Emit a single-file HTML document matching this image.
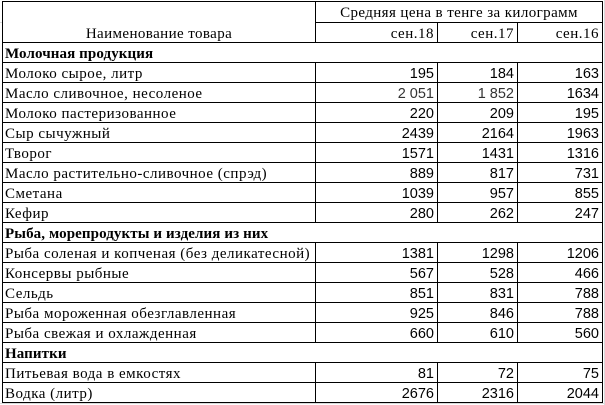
<!DOCTYPE html>
<html>
<head>
<meta charset="utf-8">
<style>
html,body{margin:0;padding:0;background:#fff;}
body{width:605px;height:405px;position:relative;overflow:hidden;}
.l{position:absolute;background:#000;}
.g{position:absolute;background:#dadada;}
.t{position:absolute;height:20px;line-height:20px;white-space:nowrap;color:#000;margin-top:2px;
   font-family:"Liberation Serif","DejaVu Serif",serif;font-size:15px;letter-spacing:0.5px;}
.b{font-weight:bold;letter-spacing:0.1px;}
.n{position:absolute;height:20px;line-height:20px;white-space:nowrap;color:#000;text-align:right;margin-top:2px;
   font-family:"Liberation Sans","DejaVu Sans",sans-serif;font-size:14.5px;}
</style>
</head>
<body>
<!-- faint excel gridlines -->
<div class="g" style="left:604px;top:0;width:1px;height:405px;"></div>
<div class="g" style="left:0;top:22px;width:2px;height:1px;"></div>
<div class="g" style="left:0;top:403px;width:605px;height:1px;"></div>

<!-- outer border -->
<div class="l" style="left:2px;top:1px;width:601px;height:1px;"></div>
<div class="l" style="left:2px;top:1px;width:1px;height:402px;"></div>
<div class="l" style="left:602px;top:1px;width:1px;height:402px;"></div>
<!-- header lines -->
<div class="l" style="left:315px;top:1px;width:1px;height:42px;"></div>
<div class="l" style="left:315px;top:22px;width:288px;height:1px;"></div>
<div class="l" style="left:437px;top:22px;width:1px;height:21px;"></div>
<div class="l" style="left:517px;top:22px;width:1px;height:21px;"></div>

<!-- header text -->
<div class="t" style="left:3px;width:312px;top:22px;text-align:center;letter-spacing:0.4px;">Наименование товара</div>
<div class="t" style="left:316px;width:286px;top:1px;text-align:center;letter-spacing:0.4px;">Средняя цена в тенге за килограмм</div>
<div class="t" style="left:316px;width:118px;top:22px;text-align:right;">сен.18</div>
<div class="t" style="left:438px;width:76px;top:22px;text-align:right;">сен.17</div>
<div class="t" style="left:518px;width:81px;top:22px;text-align:right;">сен.16</div>

<!-- rows: horizontal lines -->
<div class="l" style="left:2px;top:42px;width:601px;height:1px;"></div>
<div class="l" style="left:2px;top:62px;width:601px;height:1px;"></div>
<div class="l" style="left:2px;top:82px;width:601px;height:1px;"></div>
<div class="l" style="left:2px;top:102px;width:601px;height:1px;"></div>
<div class="l" style="left:2px;top:122px;width:601px;height:1px;"></div>
<div class="l" style="left:2px;top:142px;width:601px;height:1px;"></div>
<div class="l" style="left:2px;top:162px;width:601px;height:1px;"></div>
<div class="l" style="left:2px;top:182px;width:601px;height:1px;"></div>
<div class="l" style="left:2px;top:202px;width:601px;height:1px;"></div>
<div class="l" style="left:2px;top:222px;width:601px;height:1px;"></div>
<div class="l" style="left:2px;top:242px;width:601px;height:1px;"></div>
<div class="l" style="left:2px;top:262px;width:601px;height:1px;"></div>
<div class="l" style="left:2px;top:282px;width:601px;height:1px;"></div>
<div class="l" style="left:2px;top:302px;width:601px;height:1px;"></div>
<div class="l" style="left:2px;top:322px;width:601px;height:1px;"></div>
<div class="l" style="left:2px;top:342px;width:601px;height:1px;"></div>
<div class="l" style="left:2px;top:362px;width:601px;height:1px;"></div>
<div class="l" style="left:2px;top:382px;width:601px;height:1px;"></div>
<div class="l" style="left:2px;top:402px;width:601px;height:1px;"></div>

<!-- vertical lines for data blocks -->
<div class="l" style="left:315px;top:62px;width:1px;height:160px;"></div>
<div class="l" style="left:437px;top:62px;width:1px;height:160px;"></div>
<div class="l" style="left:517px;top:62px;width:1px;height:160px;"></div>
<div class="l" style="left:315px;top:242px;width:1px;height:100px;"></div>
<div class="l" style="left:437px;top:242px;width:1px;height:100px;"></div>
<div class="l" style="left:517px;top:242px;width:1px;height:100px;"></div>
<div class="l" style="left:315px;top:362px;width:1px;height:40px;"></div>
<div class="l" style="left:437px;top:362px;width:1px;height:40px;"></div>
<div class="l" style="left:517px;top:362px;width:1px;height:40px;"></div>

<!-- row text -->
<div class="t b" style="left:5px;top:42px;">Молочная продукция</div>

<div class="t" style="left:5px;top:62px;">Молоко сырое, литр</div>
<div class="n" style="left:316px;width:118px;top:62px;">195</div>
<div class="n" style="left:438px;width:76px;top:62px;">184</div>
<div class="n" style="left:518px;width:81px;top:62px;">163</div>

<div class="t" style="left:5px;top:82px;">Масло сливочное, несоленое</div>
<div class="n" style="left:316px;width:118px;top:82px;color:#333;">2 051</div>
<div class="n" style="left:438px;width:76px;top:82px;color:#333;">1 852</div>
<div class="n" style="left:518px;width:81px;top:82px;">1634</div>

<div class="t" style="left:5px;top:102px;">Молоко пастеризованное</div>
<div class="n" style="left:316px;width:118px;top:102px;">220</div>
<div class="n" style="left:438px;width:76px;top:102px;">209</div>
<div class="n" style="left:518px;width:81px;top:102px;">195</div>

<div class="t" style="left:5px;top:122px;">Сыр сычужный</div>
<div class="n" style="left:316px;width:118px;top:122px;">2439</div>
<div class="n" style="left:438px;width:76px;top:122px;">2164</div>
<div class="n" style="left:518px;width:81px;top:122px;">1963</div>

<div class="t" style="left:5px;top:142px;">Творог</div>
<div class="n" style="left:316px;width:118px;top:142px;">1571</div>
<div class="n" style="left:438px;width:76px;top:142px;">1431</div>
<div class="n" style="left:518px;width:81px;top:142px;">1316</div>

<div class="t" style="left:5px;top:162px;">Масло растительно-сливочное (спрэд)</div>
<div class="n" style="left:316px;width:118px;top:162px;">889</div>
<div class="n" style="left:438px;width:76px;top:162px;">817</div>
<div class="n" style="left:518px;width:81px;top:162px;">731</div>

<div class="t" style="left:5px;top:182px;">Сметана</div>
<div class="n" style="left:316px;width:118px;top:182px;">1039</div>
<div class="n" style="left:438px;width:76px;top:182px;">957</div>
<div class="n" style="left:518px;width:81px;top:182px;">855</div>

<div class="t" style="left:5px;top:202px;">Кефир</div>
<div class="n" style="left:316px;width:118px;top:202px;">280</div>
<div class="n" style="left:438px;width:76px;top:202px;">262</div>
<div class="n" style="left:518px;width:81px;top:202px;">247</div>

<div class="t b" style="left:5px;top:222px;">Рыба, морепродукты и изделия из них</div>

<div class="t" style="left:5px;top:242px;">Рыба соленая и копченая (без деликатесной)</div>
<div class="n" style="left:316px;width:118px;top:242px;">1381</div>
<div class="n" style="left:438px;width:76px;top:242px;">1298</div>
<div class="n" style="left:518px;width:81px;top:242px;">1206</div>

<div class="t" style="left:5px;top:262px;">Консервы рыбные</div>
<div class="n" style="left:316px;width:118px;top:262px;">567</div>
<div class="n" style="left:438px;width:76px;top:262px;">528</div>
<div class="n" style="left:518px;width:81px;top:262px;">466</div>

<div class="t" style="left:5px;top:282px;">Сельдь</div>
<div class="n" style="left:316px;width:118px;top:282px;">851</div>
<div class="n" style="left:438px;width:76px;top:282px;">831</div>
<div class="n" style="left:518px;width:81px;top:282px;">788</div>

<div class="t" style="left:5px;top:302px;">Рыба мороженная обезглавленная</div>
<div class="n" style="left:316px;width:118px;top:302px;">925</div>
<div class="n" style="left:438px;width:76px;top:302px;">846</div>
<div class="n" style="left:518px;width:81px;top:302px;">788</div>

<div class="t" style="left:5px;top:322px;">Рыба свежая и охлажденная</div>
<div class="n" style="left:316px;width:118px;top:322px;">660</div>
<div class="n" style="left:438px;width:76px;top:322px;">610</div>
<div class="n" style="left:518px;width:81px;top:322px;">560</div>

<div class="t b" style="left:5px;top:342px;">Напитки</div>

<div class="t" style="left:5px;top:362px;">Питьевая вода в емкостях</div>
<div class="n" style="left:316px;width:118px;top:362px;">81</div>
<div class="n" style="left:438px;width:76px;top:362px;">72</div>
<div class="n" style="left:518px;width:81px;top:362px;">75</div>

<div class="t" style="left:5px;top:382px;">Водка (литр)</div>
<div class="n" style="left:316px;width:118px;top:382px;">2676</div>
<div class="n" style="left:438px;width:76px;top:382px;">2316</div>
<div class="n" style="left:518px;width:81px;top:382px;">2044</div>
</body>
</html>
